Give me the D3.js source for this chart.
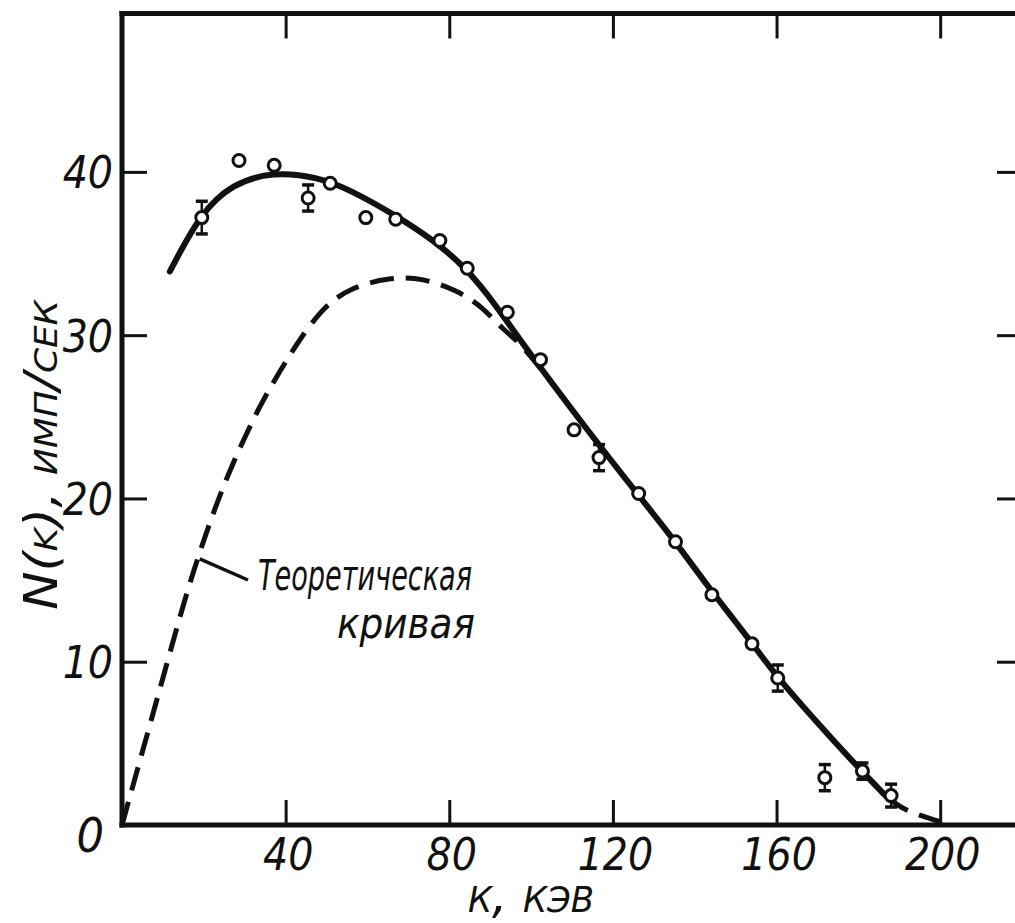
<!DOCTYPE html>
<html>
<head>
<meta charset="utf-8">
<script src="https://cdn.jsdelivr.net/npm/d3@7"></script>
<style>
  html, body { margin: 0; padding: 0; background: #fff; }
  svg { display: block; }
  .lbl { font-family: "Liberation Sans Narrow", "DejaVu Sans Condensed", "Liberation Sans", sans-serif; font-style: italic; fill: #111; }
</style>
</head>
<body>
<svg id="chart" width="1015" height="923"></svg>
<script>
// Energy ticks (keV) and count-rate ticks (counts/s)
const energyTicks = [40, 80, 120, 160, 200];
const countTicks = [10, 20, 30, 40];

// Measured spectrum: photon energy k (keV), rate N(k), error half-width
const measK   = [19.5, 28.6, 37.2, 45.5, 50.9, 59.6, 66.9, 77.7, 84.4, 94.2, 102.3, 110.5, 116.6, 126.3, 135.3, 144.2, 154.0, 160.3, 171.8, 181.0, 188.0];
const measN   = [37.2, 40.7, 40.4, 38.4, 39.3, 37.2, 37.1, 35.8, 34.1, 31.4, 28.5, 24.2, 22.5, 20.3, 17.35, 14.1, 11.1, 9.0, 2.9, 3.3, 1.8];
const measErr = [1.0, 0, 0, 0.8, 0, 0, 0, 0, 0, 0, 0, 0, 0.8, 0, 0, 0, 0, 0.8, 0.8, 0.5, 0.7];

// Smooth curve drawn through the measurements
const fitK = [11.7, 19.1, 27.1, 36.9, 47.7, 55.8, 66.8, 76.3, 84.4, 91.2, 98.0, 112.0, 125.9, 135.0, 143.8, 153.6, 160.2, 173.8, 181.2, 187.0];
const fitN = [33.9, 37.45, 39.3, 40.0, 39.7, 38.9, 37.35, 35.8, 34.05, 31.9, 29.45, 24.75, 20.3, 17.45, 14.4, 11.3, 9.0, 5.2, 3.2, 1.7];

// Theoretical spectrum
const theoK = [0, 5, 10, 15.4, 19.1, 22.7, 26.4, 30.1, 33.7, 37.4, 41.1, 43.5, 49.1, 55.7, 65.5, 73.6, 81.9, 88.3, 93.2, 98.0, 112.0, 125.9, 135.0, 143.8, 153.6, 160.2, 173.8, 181.2, 187.0, 191.0, 200.0];
const theoN = [0, 4.5, 9.0, 13.9, 16.8, 19.4, 21.75, 23.8, 25.65, 27.3, 28.8, 29.75, 31.7, 32.9, 33.55, 33.5, 32.75, 31.7, 30.3, 29.45, 24.75, 20.3, 17.45, 14.4, 11.3, 9.0, 5.2, 3.2, 1.7, 0.9, 0.2];

const svg = d3.select("#chart");
const x = d3.scaleLinear().domain([0, 220]).range([122, 1022]);
const y = d3.scaleLinear().domain([0, 49.7]).range([825, 13.5]);

const ink = "#111";
const tickLen = 25;

// Frame
const frame = svg.append("g").attr("stroke", ink).attr("stroke-width", 5).attr("stroke-linecap", "square");
frame.append("line").attr("x1", x(0)).attr("x2", x(0)).attr("y1", y(0)).attr("y2", y(49.7));
frame.append("line").attr("x1", x(0)).attr("x2", x(220)).attr("y1", y(0)).attr("y2", y(0));
frame.append("line").attr("x1", x(0)).attr("x2", x(220)).attr("y1", y(49.7)).attr("y2", y(49.7));
frame.append("line").attr("x1", x(220)).attr("x2", x(220)).attr("y1", y(0)).attr("y2", y(49.7));

function styleAxis(g) {
  g.select(".domain").remove();
  g.selectAll(".tick line").attr("stroke", ink).attr("stroke-width", 3);
  g.selectAll(".tick text").attr("class", "lbl").attr("font-size", 44).attr("fill", ink);
}

// Bottom axis (ticks point inward)
svg.append("g").attr("transform", `translate(0,${y(0)})`)
  .call(d3.axisBottom(x).tickValues(energyTicks).tickSize(-tickLen).tickPadding(0).tickFormat(d3.format("d")))
  .call(styleAxis)
  .call(g => g.selectAll(".tick text").attr("dy", 0).attr("y", 45).attr("dx", 2));

// Top axis ticks
svg.append("g").attr("transform", `translate(0,${y(49.7)})`)
  .call(d3.axisTop(x).tickValues(energyTicks).tickSize(-tickLen).tickFormat(""))
  .call(styleAxis);

// Left axis
svg.append("g").attr("transform", `translate(${x(0)},0)`)
  .call(d3.axisLeft(y).tickValues(countTicks).tickSize(-tickLen).tickPadding(0).tickFormat(d3.format("d")))
  .call(styleAxis)
  .call(g => g.selectAll(".tick text").attr("x", -9).attr("dy", "0.36em"));

// Right axis ticks
svg.append("g").attr("transform", `translate(${x(220)},0)`)
  .call(d3.axisRight(y).tickValues(countTicks).tickSize(-tickLen).tickFormat(""))
  .call(styleAxis);

// Origin label
svg.append("text").attr("class", "lbl").attr("font-size", 48)
  .attr("x", x(0) - 18).attr("y", y(0) + 27).attr("text-anchor", "end").text("0");

// Axis titles
svg.append("text").attr("class", "lbl").attr("font-size", 50)
  .style("font-variant", "small-caps")
  .attr("x", 468).attr("y", 912)
  .attr("textLength", 126).attr("lengthAdjust", "spacingAndGlyphs")
  .text("к, кэв");

svg.append("text").attr("class", "lbl").attr("font-size", 46)
  .style("font-variant", "small-caps")
  .attr("transform", "translate(57,610) rotate(-90)")
  .attr("textLength", 310).attr("lengthAdjust", "spacingAndGlyphs")
  .text("N(k), имп/сек");

// Curves
const line = d3.line().x(d => x(d[0])).y(d => y(d[1])).curve(d3.curveBasis);

svg.append("path")
  .datum(theoK.map((k, i) => [k, theoN[i]]))
  .attr("d", line).attr("fill", "none").attr("stroke", ink)
  .attr("stroke-width", 5).attr("stroke-dasharray", "24,12");

svg.append("path")
  .datum(fitK.map((k, i) => [k, fitN[i]]))
  .attr("d", line).attr("fill", "none").attr("stroke", ink)
  .attr("stroke-width", 6).attr("stroke-linecap", "round");

// Measured points with error bars
const pts = measK.map((k, i) => ({ k, n: measN[i], e: measErr[i] }));
const eb = svg.append("g").attr("stroke", ink).attr("stroke-width", 2.5);
pts.filter(d => d.e > 0).forEach(d => {
  eb.append("line").attr("x1", x(d.k)).attr("x2", x(d.k)).attr("y1", y(d.n - d.e)).attr("y2", y(d.n + d.e));
  eb.append("line").attr("x1", x(d.k) - 6).attr("x2", x(d.k) + 6).attr("y1", y(d.n - d.e)).attr("y2", y(d.n - d.e)).attr("stroke-width", 3.5);
  eb.append("line").attr("x1", x(d.k) - 6).attr("x2", x(d.k) + 6).attr("y1", y(d.n + d.e)).attr("y2", y(d.n + d.e)).attr("stroke-width", 3.5);
});
svg.append("g").selectAll("circle").data(pts).join("circle")
  .attr("cx", d => x(d.k)).attr("cy", d => y(d.n)).attr("r", 6)
  .attr("fill", "#fff").attr("stroke", ink).attr("stroke-width", 3);

// Annotation for the theoretical curve
svg.append("line").attr("x1", x(19)).attr("y1", y(16.3)).attr("x2", 248).attr("y2", 580)
  .attr("stroke", ink).attr("stroke-width", 3.5);
svg.append("text").attr("class", "lbl").attr("font-size", 42)
  .attr("x", 258).attr("y", 590).attr("textLength", 214).attr("lengthAdjust", "spacingAndGlyphs")
  .text("Теоретическая");
svg.append("text").attr("class", "lbl").attr("font-size", 42)
  .attr("x", 337).attr("y", 638).attr("textLength", 138).attr("lengthAdjust", "spacingAndGlyphs")
  .text("кривая");
</script>
</body>
</html>
